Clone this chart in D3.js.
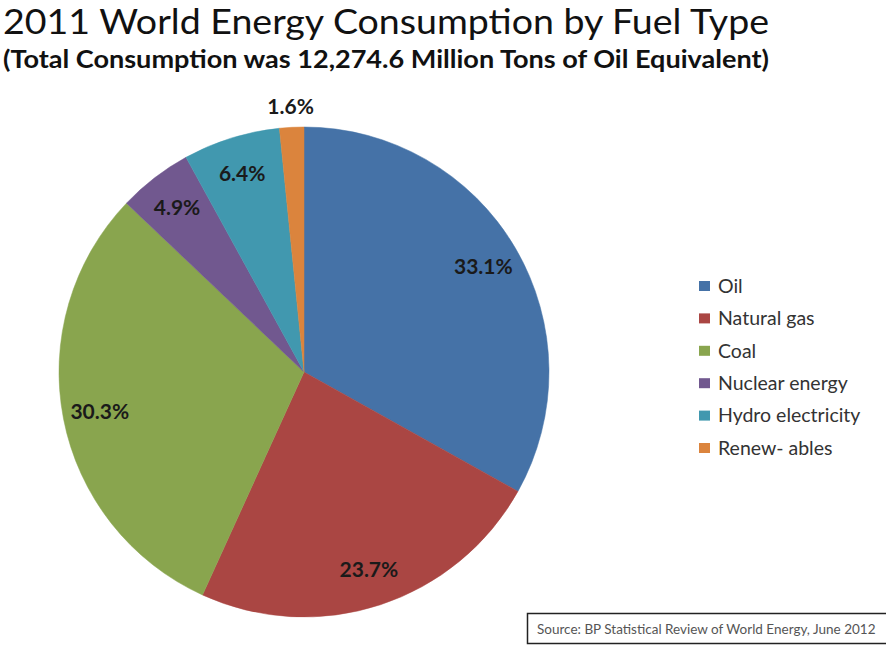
<!DOCTYPE html>
<html><head><meta charset="utf-8">
<script src="https://cdn.jsdelivr.net/npm/d3@7"></script>
<style>html,body{margin:0;padding:0;background:#fff;overflow:hidden}</style>
</head><body>
<script>
const categories = ["Oil","Natural gas","Coal","Nuclear energy","Hydro electricity","Renew- ables"];
const values = [33.1, 23.7, 30.3, 4.9, 6.4, 1.6];
const colors = ["#4572A7","#AA4643","#89A54E","#71588F","#4198AF","#DB843D"];
const title = "2011 World Energy Consumption by Fuel Type";
const subtitle = "(Total Consumption was 12,274.6 Million Tons of Oil Equivalent)";
const source = "Source:  BP Statistical Review of World Energy, June 2012";

const W = 886, H = 649;
const svg = d3.select("body").append("svg").attr("width", W).attr("height", H);
const font = "Lato, 'Open Sans', sans-serif";

svg.append("text").attr("x", 3).attr("y", 34).attr("font-family", font)
  .attr("font-size", 35).attr("fill", "#111")
  .attr("textLength", 766).attr("lengthAdjust", "spacingAndGlyphs").text(title);
svg.append("text").attr("x", 3).attr("y", 68).attr("font-family", font)
  .attr("font-size", 25).attr("font-weight", "bold").attr("fill", "#111")
  .attr("textLength", 766).attr("lengthAdjust", "spacingAndGlyphs").text(subtitle);

const cx = 304, cy = 372, R = 245;
const pie = d3.pie().value(d => d).sort(null)(values);
const arc = d3.arc().innerRadius(0).outerRadius(R);
const g = svg.append("g").attr("transform", `translate(${cx},${cy})`);
g.selectAll("path").data(pie).join("path")
  .attr("d", arc).attr("fill", (d, i) => colors[i])
  .attr("stroke", (d, i) => colors[i]).attr("stroke-width", 0.5);

const labelArcIn = d3.arc().innerRadius(208).outerRadius(208);
const labelArcOut = d3.arc().innerRadius(266).outerRadius(266);
g.selectAll("text.lbl").data(pie).join("text").attr("class", "lbl")
  .attr("transform", d => `translate(${(d.data < 3 ? labelArcOut : labelArcIn).centroid(d)})`)
  .attr("text-anchor", "middle").attr("dy", "0.36em")
  .attr("font-family", font).attr("font-weight", "bold").attr("font-size", 21)
  .attr("fill", "#1a1a1a")
  .text(d => d3.format(".1f")(d.data) + "%");

const lg = svg.append("g").attr("transform", "translate(699,286)");
const items = lg.selectAll("g").data(categories).join("g")
  .attr("transform", (d, i) => `translate(0,${i * 32.4})`);
items.append("rect").attr("x", 0).attr("y", -5).attr("width", 11).attr("height", 10)
  .attr("fill", (d, i) => colors[i]);
items.append("text").attr("x", 19).attr("dy", "0.35em")
  .attr("font-family", font).attr("font-size", 19.5).attr("fill", "#333").text(d => d);

svg.append("rect").attr("x", 527.5).attr("y", 613.5).attr("width", 420).attr("height", 30)
  .attr("fill", "#fff").attr("stroke", "#222").attr("stroke-width", 1.5);
svg.append("text").attr("x", 537).attr("y", 634).attr("font-family", font)
  .attr("font-size", 13.5).attr("fill", "#555").text(source);
</script>
</body></html>
